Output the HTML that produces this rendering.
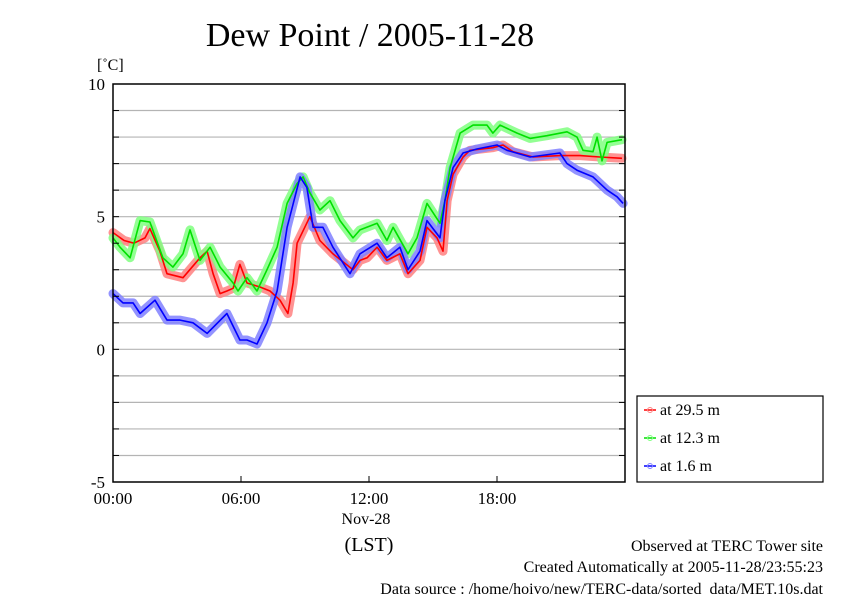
<!DOCTYPE html>
<html><head><meta charset="utf-8"><style>
body{margin:0;background:#fff}
svg text{font-family:"Liberation Serif",serif;fill:#000}
</style></head><body>
<svg width="842" height="595" viewBox="0 0 842 595">
<text x="370" y="46" font-size="34" text-anchor="middle">Dew Point / 2005-11-28</text>
<text x="97" y="70" font-size="16">[˚C]</text>
<g id="grid"></g>
<g id="bands"></g>
<g id="lines"></g>
<rect x="113" y="84" width="512" height="398" fill="none" stroke="#000" stroke-width="1.5"/>
<g id="axes"></g>
<text x="366" y="524" font-size="16" text-anchor="middle">Nov-28</text>
<text x="369" y="551" font-size="20" text-anchor="middle">(LST)</text>
<g>
<rect x="637" y="396" width="186" height="86" fill="#fff" stroke="#000" stroke-width="1.2"/>
<g id="legend"></g>
</g>
<text x="823" y="551" font-size="16" text-anchor="end">Observed at TERC Tower site</text>
<text x="823" y="572" font-size="16" text-anchor="end">Created Automatically at 2005-11-28/23:55:23</text>
<text x="823" y="594" font-size="16" text-anchor="end">Data source : /home/hoivo/new/TERC-data/sorted_data/MET.10s.dat</text>
</svg>
<script>
const yTicks=[-5,0,5,10];
const xTickHours=[0,6,12,18];
const xTickLabels=["00:00","06:00","12:00","18:00"];
const seriesNames=["at 29.5 m","at 12.3 m","at 1.6 m"];
const redHours=[0,0.52,0.98,1.5,1.73,2.2,2.53,3.28,4.08,4.41,4.69,5.02,5.34,5.63,5.95,6.28,6.89,7.36,7.83,8.2,8.44,8.63,9.23,9.7,10.31,11.25,11.58,11.91,12.38,12.84,13.45,13.83,14.39,14.72,15.19,15.47,15.66,15.94,16.41,16.73,17.81,18.28,18.75,19.69,20.95,21.89,22.83,23.86];
const redValues=[4.4,4.1,4.0,4.2,4.55,3.7,2.85,2.7,3.45,3.7,2.85,2.1,2.2,2.3,3.2,2.5,2.35,2.2,1.85,1.35,2.5,4.0,5.0,4.1,3.6,3.0,3.35,3.45,3.85,3.35,3.6,2.85,3.35,4.6,4.2,3.7,5.6,6.6,7.25,7.5,7.6,7.7,7.45,7.25,7.3,7.3,7.25,7.2];
const greenHours=[0,0.33,0.8,1.27,1.73,2.34,2.81,3.28,3.61,4.08,4.55,5.02,5.63,5.86,6.28,6.75,7.22,7.69,8.16,8.63,8.91,9.23,9.7,10.17,10.64,11.25,11.58,12.38,12.84,13.13,13.83,14.25,14.72,15.33,15.56,15.8,16.27,16.88,17.53,17.81,18.14,18.94,19.55,20.34,21.28,21.75,22.03,22.5,22.69,22.92,23.16,23.86];
const greenValues=[4.2,3.85,3.45,4.85,4.8,3.45,3.1,3.6,4.5,3.35,3.85,3.1,2.5,2.2,2.7,2.2,3.0,3.85,5.5,6.25,6.5,5.9,5.25,5.6,4.85,4.2,4.5,4.75,4.1,4.6,3.6,4.2,5.5,4.75,5.6,6.85,8.15,8.45,8.45,8.15,8.45,8.15,7.95,8.05,8.2,8.0,7.5,7.45,8.0,7.1,7.8,7.9];
const blueHours=[0,0.47,0.94,1.27,1.97,2.53,3.14,3.75,4.41,5.34,5.95,6.28,6.75,7.22,7.69,8.16,8.77,9.09,9.38,9.84,10.31,11.11,11.58,12.38,12.84,13.45,13.83,14.39,14.72,15.33,15.56,15.94,16.41,17.06,18.0,18.47,19.55,20.95,21.28,21.75,22.5,23.16,23.63,23.91];
const blueValues=[2.1,1.75,1.75,1.35,1.85,1.1,1.1,1.0,0.6,1.35,0.35,0.35,0.2,1.0,2.2,4.6,6.5,6.1,4.6,4.6,3.85,2.85,3.6,4.0,3.45,3.85,3.0,3.7,4.85,4.2,5.6,6.85,7.4,7.55,7.7,7.5,7.25,7.4,7.0,6.75,6.5,6.0,5.75,5.5];

const NS="http://www.w3.org/2000/svg";
const X0=113,X1=625,Y0=482,Y1=84;
const xs=h=>X0+(X1-X0)*h/24;
const ys=v=>Y0-(Y0-Y1)*(v+5)/15;
function mk(t,a,p){const e=document.createElementNS(NS,t);for(const k in a)e.setAttribute(k,a[k]);p.appendChild(e);return e;}
const grid=document.getElementById('grid'),axes=document.getElementById('axes');
for(let v=-4;v<=9;v++){
  const l=mk('line',{x1:X0,x2:X1,y1:ys(v),y2:ys(v),stroke:'#b4b4b4','stroke-width':1.2},grid);
  
  
  mk('line',{x1:X0,x2:X0+6,y1:ys(v),y2:ys(v),stroke:'#000'},axes);
  mk('line',{x1:X1-6,x2:X1,y1:ys(v),y2:ys(v),stroke:'#000'},axes);
}
yTicks.forEach(v=>{
  const t=mk('text',{x:X0-8,y:ys(v)+6,'font-size':17,'text-anchor':'end'},axes);
  t.textContent=v;
  
  
});
xTickHours.forEach((h,i)=>{
  mk('line',{x1:xs(h),x2:xs(h),y1:Y0,y2:Y0-6,stroke:'#000'},axes);
  const t=mk('text',{x:xs(h),y:Y0+22,'font-size':17,'text-anchor':'middle'},axes);
  t.textContent=xTickLabels[i];
  
  
});
const series=[[redHours,redValues,'#ff0000','#ff8080'],[greenHours,greenValues,'#00e000','#80ff80'],[blueHours,blueValues,'#0000ff','#8080ff']];
const bands=document.getElementById('bands'),lines=document.getElementById('lines'),leg=document.getElementById('legend');
series.forEach((s,i)=>{
  const pts=s[0].map((h,j)=>xs(h).toFixed(1)+','+ys(s[1][j]).toFixed(1)).join(' ');
  const b=mk('polyline',{points:pts,fill:'none',stroke:s[3],'stroke-width':9,'stroke-linejoin':'round','stroke-linecap':'round',opacity:0.85},bands);
  
  
  const l=mk('polyline',{points:pts,fill:'none',stroke:s[2],'stroke-width':1.6,'stroke-linejoin':'round'},lines);
  
  
  const y=410+i*28;
  const m=mk('line',{x1:644,x2:656,y1:y,y2:y,stroke:s[2],'stroke-width':1.5},leg);
  
  
  mk('circle',{cx:650,cy:y,r:2.5,fill:'none',stroke:s[3]},leg);
  const t=mk('text',{x:660,y:y+5,'font-size':16},leg);
  t.textContent=seriesNames[i];
  
  
});
</script>
</body></html>
